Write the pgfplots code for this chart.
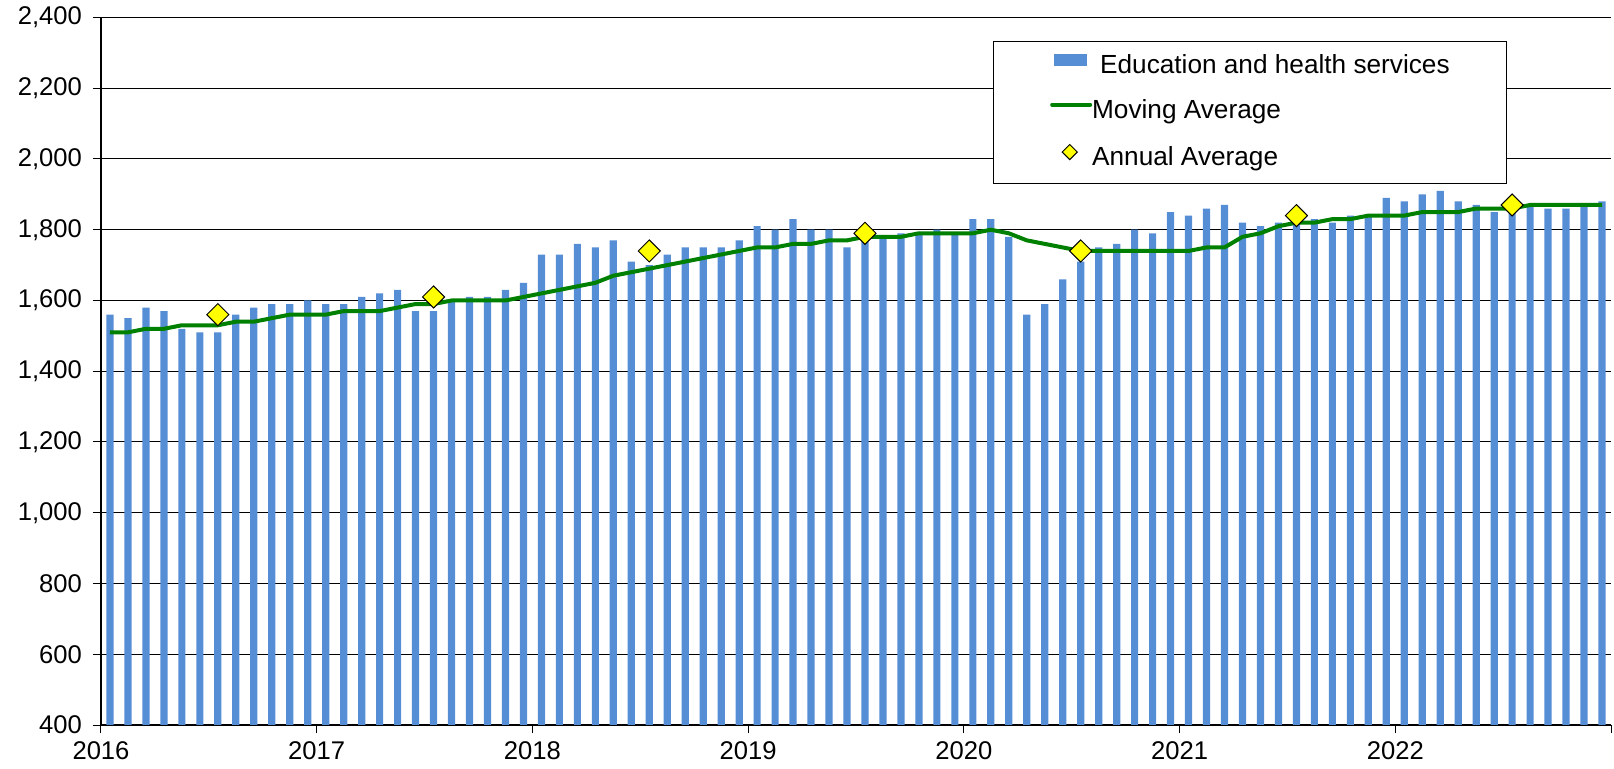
\documentclass[border=0pt]{standalone}
\usepackage{pgfplots}
\usepackage{pgfplotstable}
\pgfplotsset{compat=1.18}
\usepackage{fontspec}
\setmainfont{Liberation Sans}
\definecolor{barblue}{HTML}{558ED5}
\definecolor{magreen}{HTML}{008000}
\definecolor{diayellow}{HTML}{FFFF00}

\pgfplotstableread{
x bar ma
0.5 1560 1510
1.5 1550 1510
2.5 1580 1520
3.5 1570 1520
4.5 1520 1530
5.5 1510 1530
6.5 1510 1530
7.5 1560 1540
8.5 1580 1540
9.5 1590 1550
10.5 1590 1560
11.5 1600 1560
12.5 1590 1560
13.5 1590 1570
14.5 1610 1570
15.5 1620 1570
16.5 1630 1580
17.5 1570 1590
18.5 1570 1590
19.5 1600 1600
20.5 1610 1600
21.5 1610 1600
22.5 1630 1600
23.5 1650 1610
24.5 1730 1620
25.5 1730 1630
26.5 1760 1640
27.5 1750 1650
28.5 1770 1670
29.5 1710 1680
30.5 1700 1690
31.5 1730 1700
32.5 1750 1710
33.5 1750 1720
34.5 1750 1730
35.5 1770 1740
36.5 1810 1750
37.5 1800 1750
38.5 1830 1760
39.5 1800 1760
40.5 1800 1770
41.5 1750 1770
42.5 1790 1780
43.5 1780 1780
44.5 1790 1780
45.5 1790 1790
46.5 1800 1790
47.5 1790 1790
48.5 1830 1790
49.5 1830 1800
50.5 1780 1790
51.5 1560 1770
52.5 1590 1760
53.5 1660 1750
54.5 1710 1740
55.5 1750 1740
56.5 1760 1740
57.5 1800 1740
58.5 1790 1740
59.5 1850 1740
60.5 1840 1740
61.5 1860 1750
62.5 1870 1750
63.5 1820 1780
64.5 1810 1790
65.5 1820 1810
66.5 1830 1820
67.5 1830 1820
68.5 1820 1830
69.5 1840 1830
70.5 1840 1840
71.5 1890 1840
72.5 1880 1840
73.5 1900 1850
74.5 1910 1850
75.5 1880 1850
76.5 1870 1860
77.5 1850 1860
78.5 1860 1860
79.5 1870 1870
80.5 1860 1870
81.5 1860 1870
82.5 1870 1870
83.5 1880 1870
}\datatable

\pgfplotstableread{
x avg
6.5 1560
18.5 1610
30.5 1740
42.5 1790
54.5 1740
66.5 1840
78.5 1870
}\annualtable

\begin{document}
\begin{tikzpicture}
\useasboundingbox (-50.5bp,-22bp) rectangle (756.5bp,362.5bp);
\begin{axis}[
  at={(0,0)}, anchor=south west,
  scale only axis,
  width=755bp, height=353.75bp,
  xmin=0, xmax=84,
  ymin=400, ymax=2400,
  axis lines=left,
  axis line style={-, black, line width=0.6bp},
  xtick={0,12,...,84},
  xticklabels={2016,2017,2018,2019,2020,2021,2022,{}},
  ytick={400,600,...,2400},
  ymajorgrids,
  grid style={black, line width=0.5bp},
  tick align=outside,
  major tick length=4bp,
  tick style={black, line width=0.5bp},
  font=\fontsize{12.8bp}{15bp}\selectfont,
  ticklabel style={font=\fontsize{12.8bp}{15bp}\selectfont},
  /pgf/number format/.cd, 1000 sep={,}, assume math mode=true,
  /pgfplots/.cd,
  yticklabel style={xshift=-2bp},
  xticklabel style={yshift=-1bp},
  legend style={
    at={(0.5907,0.9668)}, anchor=north west,
    draw=black, line width=0.6bp, fill=white,
    inner xsep=28.3bp,
    inner ysep=6.1bp,
    row sep=10.2bp,
    nodes={inner sep=0pt, text height=9.5bp, text depth=2.7bp},
    font=\fontsize{13.1bp}{15bp}\selectfont,
    /tikz/every even column/.append style={column sep=2.5bp},
  },
  legend cell align=left,
  clip=true,
]
\addplot[ybar, bar width=0.4, fill=barblue, draw=none, bar shift=0pt,
  legend image code/.code={\path[draw=none,fill=none] (0bp,0bp) rectangle (20bp,1bp);\fill[barblue, draw=none] (1.5bp,0.4bp) rectangle (18bp,6.4bp);}]
  table[x=x, y=bar] {\datatable};
\addlegendentry{\hspace{4bp}Education and health services\hspace{4.7bp}}
\addplot[magreen, line width=2bp, mark=none,
  legend image code/.code={\path[draw=none,fill=none] (0bp,0bp) rectangle (20bp,1bp);\draw[magreen, line width=2bp, line cap=round] (0.5bp,3.4bp) -- (19.5bp,3.4bp);}]
  table[x=x, y=ma] {\datatable};
\addlegendentry{Moving Average}
\addplot[only marks, mark=square*, mark size=3.9bp,
  mark options={rotate=45, fill=diayellow, draw=black, line width=0.5bp},
  legend image code/.code={\path[draw=none,fill=none] (0bp,0bp) rectangle (20bp,1bp);\draw[fill=diayellow, draw=black, line width=0.5bp] (9.3bp,-0.4bp) -- (13.1bp,3.4bp) -- (9.3bp,7.2bp) -- (5.5bp,3.4bp) -- cycle;}]
  table[x=x, y=avg] {\annualtable};
\addlegendentry{Annual Average}
\end{axis}
\end{tikzpicture}
\end{document}
